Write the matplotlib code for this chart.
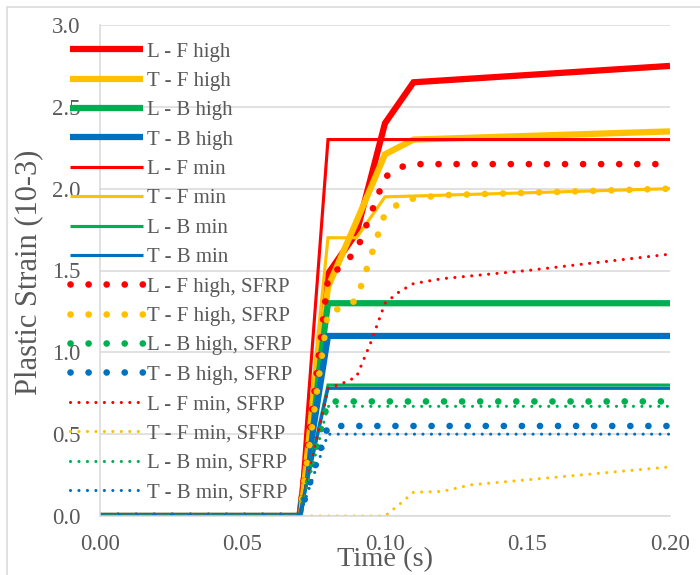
import matplotlib
matplotlib.use("Agg")
from matplotlib import pyplot as plt
from matplotlib.patches import Rectangle

plt.rcParams['font.family'] = ['Liberation Serif', 'DejaVu Serif']

RED = '#FF0000'
YEL = '#FFC000'
GRN = '#00B050'
BLU = '#0070C0'
GREY = '#595959'

# measured curves (time in s, plastic strain in 10^-3)
t_lf_high = [0, 0.07, 0.08, 0.09, 0.10, 0.11, 0.20]
lf_high = [0, 0, 1.48, 1.73, 2.40, 2.65, 2.75]
t_tf_high = [0, 0.07, 0.08, 0.09, 0.10, 0.11, 0.20]
tf_high = [0, 0, 1.40, 1.80, 2.21, 2.30, 2.35]
t_lb_high = [0, 0.07, 0.08, 0.20]
lb_high = [0, 0, 1.30, 1.30]
t_tb_high = [0, 0.07, 0.08, 0.20]
tb_high = [0, 0, 1.10, 1.10]

t_lf_min = [0, 0.07, 0.08, 0.20]
lf_min = [0, 0, 2.30, 2.30]
t_tf_min = [0, 0.07, 0.08, 0.09, 0.10, 0.20]
tf_min = [0, 0, 1.70, 1.70, 1.95, 2.00]
t_lb_min = [0, 0.07, 0.08, 0.20]
lb_min = [0, 0, 0.80, 0.80]
t_tb_min = [0, 0.07, 0.08, 0.20]
tb_min = [0, 0, 0.78, 0.78]

t_lf_high_s = [0, 0.07, 0.08, 0.09, 0.10, 0.105, 0.11, 0.20]
lf_high_s = [0, 0, 1.45, 1.62, 2.07, 2.13, 2.15, 2.15]
t_tf_high_s = [0, 0.07, 0.08, 0.085, 0.09, 0.10, 0.105, 0.11, 0.12, 0.20]
tf_high_s = [0, 0, 1.25, 1.27, 1.32, 1.85, 1.91, 1.94, 1.96, 2.00]
t_lb_high_s = [0, 0.07, 0.08, 0.20]
lb_high_s = [0, 0, 0.70, 0.70]
t_tb_high_s = [0, 0.07, 0.08, 0.20]
tb_high_s = [0, 0, 0.55, 0.55]

t_lf_min_s = [0, 0.07, 0.08, 0.085, 0.09, 0.095, 0.10, 0.105, 0.11, 0.12, 0.15, 0.20]
lf_min_s = [0, 0, 0.78, 0.81, 0.85, 1.06, 1.30, 1.37, 1.42, 1.45, 1.50, 1.60]
t_tf_min_s = [0, 0.10, 0.105, 0.11, 0.12, 0.13, 0.20]
tf_min_s = [0, 0, 0.07, 0.145, 0.15, 0.19, 0.30]
t_lb_min_s = [0, 0.07, 0.08, 0.20]
lb_min_s = [0, 0, 0.67, 0.67]
t_tb_min_s = [0, 0.07, 0.08, 0.20]
tb_min_s = [0, 0, 0.50, 0.50]

dots = (0, (0.01, 2.7))
series = [
    ('L - F high', t_lf_high, lf_high, RED, 4.5, '-'),
    ('T - F high', t_tf_high, tf_high, YEL, 4.5, '-'),
    ('L - B high', t_lb_high, lb_high, GRN, 4.5, '-'),
    ('T - B high', t_tb_high, tb_high, BLU, 4.5, '-'),
    ('L - F min', t_lf_min, lf_min, RED, 2.25, '-'),
    ('T - F min', t_tf_min, tf_min, YEL, 2.25, '-'),
    ('L - B min', t_lb_min, lb_min, GRN, 2.25, '-'),
    ('T - B min', t_tb_min, tb_min, BLU, 2.25, '-'),
    ('L - F high, SFRP', t_lf_high_s, lf_high_s, RED, 4.8, dots),
    ('T - F high, SFRP', t_tf_high_s, tf_high_s, YEL, 4.8, dots),
    ('L - B high, SFRP', t_lb_high_s, lb_high_s, GRN, 4.8, dots),
    ('T - B high, SFRP', t_tb_high_s, tb_high_s, BLU, 4.8, dots),
    ('L - F min, SFRP', t_lf_min_s, lf_min_s, RED, 2.25, dots),
    ('T - F min, SFRP', t_tf_min_s, tf_min_s, YEL, 2.25, dots),
    ('L - B min, SFRP', t_lb_min_s, lb_min_s, GRN, 2.25, dots),
    ('T - B min, SFRP', t_tb_min_s, tb_min_s, BLU, 2.25, dots),
]

fig = plt.figure(figsize=(7, 5.75), dpi=100)
ax = fig.add_axes([100/700, 1-516/575, 570/700, 491/575])

for name, tt, yy, c, lw, ls in series:
    ax.plot(tt, yy, color=c, lw=lw, ls=ls, label=name,
            solid_capstyle='butt', dash_capstyle='round', solid_joinstyle='miter')

ax.set_xlim(0, 0.2)
ax.set_ylim(0, 3.0)
ax.set_xticks([0, 0.05, 0.10, 0.15, 0.20])
ax.set_xticklabels(['0.00', '0.05', '0.10', '0.15', '0.20'])
ax.set_yticks([0, 0.5, 1.0, 1.5, 2.0, 2.5, 3.0])
ax.set_yticklabels(['0.0', '0.5', '1.0', '1.5', '2.0', '2.5', '3.0'])
ax.tick_params(length=0, labelsize=16.5, labelcolor=GREY)
ax.tick_params(axis='y', pad=14)
ax.tick_params(axis='x', pad=13)
ax.grid(axis='y', color='#D9D9D9', lw=1.1)
ax.set_axisbelow(True)
for s in ['top', 'right']:
    ax.spines[s].set_visible(False)
for s in ['left', 'bottom']:
    ax.spines[s].set_color('#D9D9D9')
    ax.spines[s].set_linewidth(1.1)

ax.set_xlabel('Time (s)', fontsize=20.5, color=GREY, va='center')
ax.xaxis.set_label_coords(0.5, -(560-516)/491)
ax.set_ylabel('Plastic Strain (10-3)', fontsize=22, color=GREY, va='center')
ax.yaxis.set_label_coords((29-100)/570, (516-272)/491)

leg = ax.legend(loc='upper left', bbox_to_anchor=(70/700, 1-42/575),
                bbox_transform=fig.transFigure, frameon=False, fontsize=15,
                handlelength=3.5, handletextpad=0.2, labelspacing=0.47,
                borderpad=0, borderaxespad=0)
for txt in leg.get_texts():
    txt.set_color(GREY)

# chart area border
fig.patches.append(Rectangle((7/700, -0.05), 1.1, 1-7/575+0.05, transform=fig.transFigure,
                             fill=False, ec='#D9D9D9', lw=1.1, zorder=0))

fig.savefig('out.png', dpi=100)
